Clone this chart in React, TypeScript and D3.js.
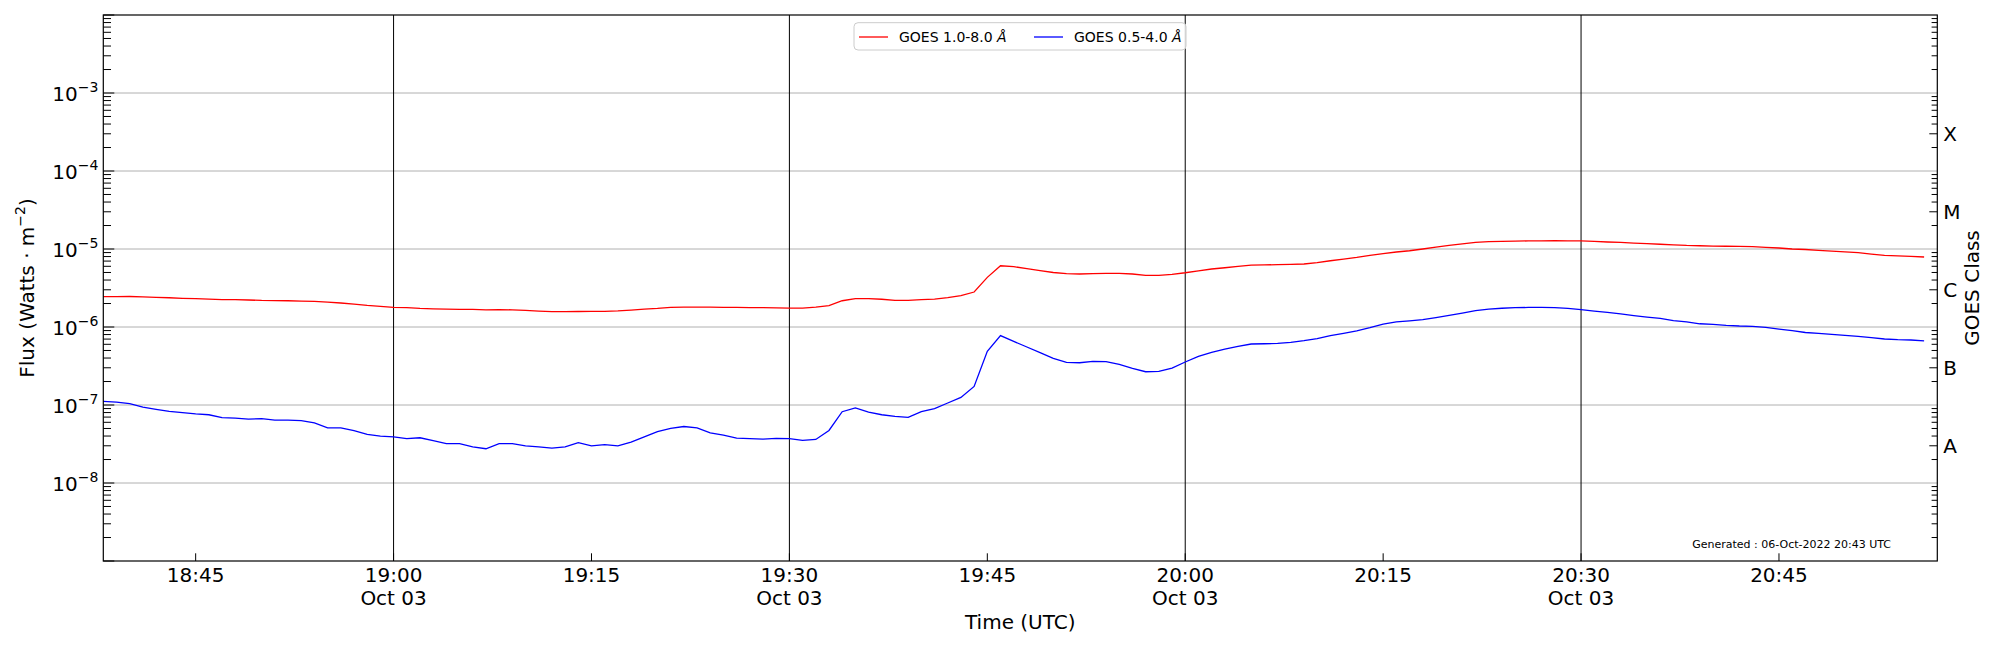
import * as d3 from 'd3'

// GOES XRS one-minute averages, 03-Oct-2022 18:38 - 20:56 UTC
const START_UTC = Date.UTC(2022, 9, 3, 18, 38)
const END_UTC = Date.UTC(2022, 9, 3, 20, 57)

const xrsLong = [
  2.45e-6, 2.45e-6, 2.46e-6, 2.44e-6, 2.40e-6, 2.37e-6, 2.33e-6, 2.31e-6, 2.28e-6, 2.25e-6,
  2.24e-6, 2.22e-6, 2.19e-6, 2.18e-6, 2.17e-6, 2.15e-6, 2.13e-6, 2.09e-6, 2.03e-6, 1.97e-6,
  1.89e-6, 1.84e-6, 1.79e-6, 1.77e-6, 1.73e-6, 1.71e-6, 1.69e-6, 1.68e-6, 1.68e-6, 1.66e-6,
  1.67e-6, 1.66e-6, 1.63e-6, 1.60e-6, 1.57e-6, 1.57e-6, 1.58e-6, 1.59e-6, 1.59e-6, 1.61e-6,
  1.65e-6, 1.70e-6, 1.73e-6, 1.78e-6, 1.80e-6, 1.80e-6, 1.80e-6, 1.79e-6, 1.78e-6, 1.77e-6,
  1.77e-6, 1.76e-6, 1.75e-6, 1.75e-6, 1.80e-6, 1.88e-6, 2.17e-6, 2.31e-6, 2.31e-6, 2.27e-6,
  2.19e-6, 2.19e-6, 2.24e-6, 2.28e-6, 2.38e-6, 2.52e-6, 2.81e-6, 4.33e-6, 6.10e-6, 5.94e-6,
  5.60e-6, 5.27e-6, 5.00e-6, 4.82e-6, 4.78e-6, 4.82e-6, 4.87e-6, 4.87e-6, 4.78e-6, 4.59e-6,
  4.59e-6, 4.73e-6, 4.96e-6, 5.25e-6, 5.54e-6, 5.75e-6, 5.98e-6, 6.20e-6, 6.26e-6, 6.30e-6,
  6.36e-6, 6.42e-6, 6.68e-6, 7.07e-6, 7.43e-6, 7.80e-6, 8.28e-6, 8.70e-6, 9.15e-6, 9.50e-6,
  1.00e-5, 1.06e-5, 1.11e-5, 1.16e-5, 1.215e-5, 1.24e-5, 1.25e-5, 1.26e-5, 1.27e-5, 1.27e-5,
  1.28e-5, 1.27e-5, 1.27e-5, 1.25e-5, 1.23e-5, 1.215e-5, 1.19e-5, 1.17e-5, 1.15e-5, 1.13e-5,
  1.11e-5, 1.10e-5, 1.09e-5, 1.085e-5, 1.08e-5, 1.07e-5, 1.05e-5, 1.03e-5, 1.00e-5, 9.85e-6,
  9.60e-6, 9.40e-6, 9.20e-6, 8.97e-6, 8.60e-6, 8.28e-6, 8.15e-6, 8.05e-6, 7.90e-6,
]

const xrsShort = [
  1.11e-7, 1.09e-7, 1.04e-7, 9.4e-8, 8.8e-8, 8.3e-8, 8.0e-8, 7.7e-8, 7.5e-8, 6.9e-8,
  6.8e-8, 6.6e-8, 6.7e-8, 6.4e-8, 6.4e-8, 6.3e-8, 5.9e-8, 5.1e-8, 5.1e-8, 4.7e-8,
  4.2e-8, 4.0e-8, 3.9e-8, 3.7e-8, 3.8e-8, 3.5e-8, 3.2e-8, 3.2e-8, 2.9e-8, 2.75e-8,
  3.2e-8, 3.2e-8, 3.0e-8, 2.9e-8, 2.8e-8, 2.9e-8, 3.3e-8, 3.0e-8, 3.1e-8, 3.0e-8,
  3.35e-8, 3.9e-8, 4.55e-8, 5.0e-8, 5.3e-8, 5.1e-8, 4.4e-8, 4.1e-8, 3.75e-8, 3.7e-8,
  3.66e-8, 3.73e-8, 3.7e-8, 3.51e-8, 3.62e-8, 4.72e-8, 8.2e-8, 9.2e-8, 8.13e-8, 7.5e-8,
  7.14e-8, 6.93e-8, 8.2e-8, 8.97e-8, 1.06e-7, 1.25e-7, 1.73e-7, 4.87e-7, 7.76e-7, 6.54e-7,
  5.54e-7, 4.69e-7, 3.96e-7, 3.52e-7, 3.48e-7, 3.62e-7, 3.59e-7, 3.32e-7, 2.95e-7, 2.67e-7,
  2.7e-7, 2.98e-7, 3.56e-7, 4.2e-7, 4.72e-7, 5.22e-7, 5.64e-7, 6.05e-7, 6.1e-7, 6.16e-7,
  6.35e-7, 6.67e-7, 7.08e-7, 7.74e-7, 8.28e-7, 8.9e-7, 9.8e-7, 1.09e-6, 1.16e-6, 1.2e-6,
  1.24e-6, 1.32e-6, 1.41e-6, 1.51e-6, 1.62e-6, 1.70e-6, 1.74e-6, 1.77e-6, 1.78e-6, 1.79e-6,
  1.77e-6, 1.73e-6, 1.67e-6, 1.60e-6, 1.54e-6, 1.47e-6, 1.40e-6, 1.34e-6, 1.29e-6, 1.21e-6,
  1.16e-6, 1.10e-6, 1.08e-6, 1.05e-6, 1.03e-6, 1.02e-6, 9.9e-7, 9.4e-7, 8.97e-7, 8.5e-7,
  8.28e-7, 8.04e-7, 7.8e-7, 7.57e-7, 7.29e-7, 7.02e-7, 6.87e-7, 6.81e-7, 6.63e-7,
]

const decadeExps = [-3, -4, -5, -6, -7, -8]
const flareClasses = ['A', 'B', 'C', 'M', 'X']
const classLevels = [3e-8, 3e-7, 3e-6, 3e-5, 3e-4]
const markedTimes = ['19:00', '19:30', '20:00', '20:30']
const dateLabel = 'Oct 03'
const generatedNote = 'Generated : 06-Oct-2022 20:43 UTC'

const series = [
  { name: 'GOES 1.0-8.0 ', values: xrsLong, color: '#ff0000' },
  { name: 'GOES 0.5-4.0 ', values: xrsShort, color: '#0000ff' },
]

const W = 2000
const H = 650
const margin = { left: 103.3, right: 62.7, top: 15, bottom: 89 }
const FONT = '"DejaVu Sans", sans-serif'

export default function App() {
  const x0 = margin.left
  const x1 = W - margin.right
  const y0 = margin.top
  const y1 = H - margin.bottom

  const x = d3.scaleUtc().domain([new Date(START_UTC), new Date(END_UTC)]).range([x0, x1])
  const y = d3.scaleLog().domain([1e-9, 1e-2]).range([y1, y0])

  const times = xrsLong.map((_, i) => new Date(START_UTC + i * 60000))
  const line = d3.line<number>()
    .x((_, i) => x(times[i]))
    .y(d => y(d))

  const fmt = d3.utcFormat('%H:%M')
  const xTicks = x.ticks(d3.utcMinute.every(15) as d3.TimeInterval)
  const markTicks = xTicks.filter(t => markedTimes.includes(fmt(t)))

  const minor: number[] = []
  for (let k = -9; k < -2; k++) {
    for (let m = 2; m <= 9; m++) minor.push(m * Math.pow(10, k))
  }
  const decadesAll = d3.range(-9, -1).map(e => Math.pow(10, e))

  return (
    <svg width={W} height={H} style={{ position: 'absolute', left: 0, top: 0, background: '#fff' }}
      fontFamily={FONT}>
      <rect x={0} y={0} width={W} height={H} fill="#fff" />

      {/* horizontal grid at decades */}
      {decadeExps.map(e => (
        <line key={e} x1={x0} x2={x1} y1={y(Math.pow(10, e))} y2={y(Math.pow(10, e))}
          stroke="#b0b0b0" strokeWidth={1} />
      ))}

      {/* half-hour markers */}
      {markTicks.map(t => (
        <line key={+t} x1={x(t)} x2={x(t)} y1={y0} y2={y1} stroke="#000" strokeWidth={1} />
      ))}

      {/* data */}
      {series.map(s => (
        <path key={s.name} d={line(s.values) ?? ''} fill="none" stroke={s.color} strokeWidth={1.3} />
      ))}

      {/* left ticks */}
      {decadesAll.map(v => (
        <line key={'L' + v} x1={x0} x2={x0 + 11} y1={y(v)} y2={y(v)} stroke="#000" strokeWidth={1} />
      ))}
      {minor.map(v => (
        <line key={'l' + v} x1={x0} x2={x0 + 7.7} y1={y(v)} y2={y(v)} stroke="#000" strokeWidth={1} />
      ))}
      {/* right ticks */}
      {minor.map(v => {
        const major = classLevels.some(c => Math.abs(c - v) / c < 1e-6)
        return (
          <line key={'r' + v} x1={x1} x2={x1 - (major ? 8 : 5.7)} y1={y(v)} y2={y(v)}
            stroke="#000" strokeWidth={1} />
        )
      })}
      {/* bottom ticks */}
      {xTicks.map(t => (
        <line key={'b' + +t} x1={x(t)} x2={x(t)} y1={y1} y2={y1 - 7.7} stroke="#000" strokeWidth={1} />
      ))}

      {/* frame */}
      <rect x={x0} y={y0} width={x1 - x0} height={y1 - y0} fill="none" stroke="#000" strokeWidth={1.2} />

      {/* y tick labels */}
      {decadeExps.map(e => (
        <text key={'yl' + e} x={x0 - 5} y={y(Math.pow(10, e)) + 8} textAnchor="end" fontSize={20} fill="#000">
          <tspan>10</tspan>
          <tspan dy={-9} fontSize={14}>{'\u2212' + Math.abs(e)}</tspan>
        </text>
      ))}

      {/* x tick labels */}
      {xTicks.map(t => (
        <g key={'xl' + +t}>
          <text x={x(t)} y={582} textAnchor="middle" fontSize={20} fill="#000">{fmt(t)}</text>
          {markedTimes.includes(fmt(t)) && (
            <text x={x(t)} y={605} textAnchor="middle" fontSize={20} fill="#000">{dateLabel}</text>
          )}
        </g>
      ))}

      <text x={(x0 + x1) / 2} y={629} textAnchor="middle" fontSize={20} fill="#000">Time (UTC)</text>

      <text transform={`translate(34,${(y0 + y1) / 2}) rotate(-90)`} textAnchor="middle" fontSize={20} fill="#000">
        <tspan>Flux (Watts · m</tspan>
        <tspan dy={-9} fontSize={14}>{'\u22122'}</tspan>
        <tspan dy={9}>)</tspan>
      </text>

      {/* GOES class labels */}
      {flareClasses.map((c, i) => (
        <text key={c} x={x1 + 6} y={y(classLevels[i]) + 7} fontSize={20} fill="#000">{c}</text>
      ))}
      <text transform={`translate(1979,${(y0 + y1) / 2}) rotate(-90)`} textAnchor="middle" fontSize={20} fill="#000">
        GOES Class
      </text>

      {/* legend */}
      <g>
        <rect x={854} y={22.7} width={332} height={27.3} rx={4} fill="#fff" fillOpacity={0.8}
          stroke="#cccccc" strokeWidth={1} />
        {series.map((s, i) => {
          const lx = 859 + i * 175
          return (
            <g key={'lg' + s.name}>
              <line x1={lx} x2={lx + 29} y1={37} y2={37} stroke={s.color} strokeWidth={1.3} />
              <text x={lx + 40} y={42} fontSize={14} fill="#000">
                {s.name}<tspan fontStyle="italic">Å</tspan>
              </text>
            </g>
          )
        })}
      </g>

      <text x={1891} y={548} textAnchor="end" fontSize={11} fill="#000">{generatedNote}</text>
    </svg>
  )
}
